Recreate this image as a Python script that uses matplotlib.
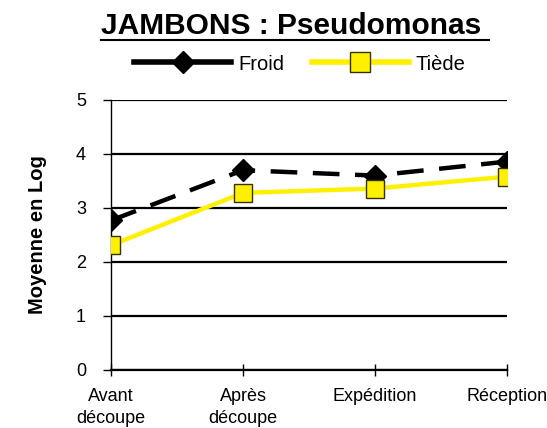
import matplotlib
matplotlib.use("Agg")
import matplotlib.pyplot as plt
from matplotlib.lines import Line2D

plt.rcParams['font.family'] = ['Liberation Sans', 'DejaVu Sans']

etapes = ["Avant\ndécoupe", "Après\ndécoupe", "Expédition", "Réception"]
froid = [2.77, 3.70, 3.60, 3.86]
tiede = [2.31, 3.28, 3.36, 3.58]
titre = "JAMBONS : Pseudomonas "

fig = plt.figure(figsize=(5.47, 4.28), dpi=100)
ax = fig.add_axes([111/547, 1-370/428, (507-111)/547, (370-100)/428])

x = range(len(etapes))
ax.plot(x, froid, color='black', lw=3.2, dashes=(6, 3.5), marker='D', ms=11,
        mfc='black', mec='black', zorder=3)
ax.plot(x, tiede, color='#FFF000', lw=3.2, marker='s', ms=13,
        mfc='#FFF000', mec='#333300', mew=1.0, zorder=4)

ax.set_xlim(0, 3)
ax.set_ylim(0, 5)
ax.set_yticks([0, 1, 2, 3, 4, 5])
ax.set_xticks(list(x))
ax.set_xticklabels(etapes, fontsize=13, linespacing=1.35)
ax.tick_params(axis='y', labelsize=13, length=6, width=1, direction='out', pad=12)
ax.tick_params(axis='x', length=8, width=1, direction='inout', pad=9)
ax.yaxis.grid(True, color='black', lw=1.6)
ax.set_axisbelow(True)
for s in ['top', 'right']:
    ax.spines[s].set_visible(False)
ax.spines['left'].set_linewidth(1)
ax.spines['bottom'].set_linewidth(1.6)

ax.set_ylabel("Moyenne en Log", fontsize=14.5, fontweight='bold', labelpad=21)

t = fig.text(295/547, 1-26/428, titre, fontsize=21.5, fontweight='bold',
             ha='center', va='center')
fig.canvas.draw()
bb = t.get_window_extent()
y_line = bb.y0
fig.add_artist(Line2D([bb.x0/547, bb.x1/547], [y_line/428, y_line/428],
                      color='black', lw=1.5))

handles = [
    Line2D([], [], color='black', lw=4, marker='D', ms=11, mfc='black', mec='black'),
    Line2D([], [], color='#FFF000', lw=4, marker='s', ms=14, mfc='#FFF000',
           mec='#333300', mew=1.0),
]
fig.legend(handles, ['Froid', 'Tiède'], loc='center',
           bbox_to_anchor=(300/547, 1-64/428), ncol=2, frameon=False,
           fontsize=14.5, handlelength=4.8, columnspacing=1.4,
           handletextpad=0.35)

fig.savefig("out.png", dpi=100)
